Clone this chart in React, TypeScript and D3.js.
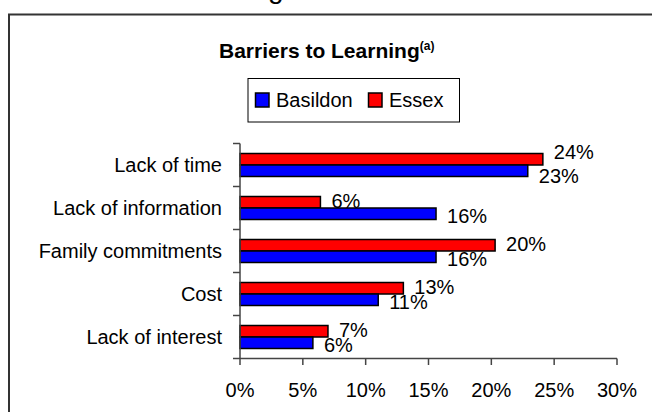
import React from "react";
import * as d3 from "d3";

const categories = ["Lack of time", "Lack of information", "Family commitments", "Cost", "Lack of interest"];
const seriesNames = ["Basildon", "Essex"];
const basildon = [22.9, 15.6, 15.6, 11.0, 5.8];
const essex = [24.1, 6.4, 20.3, 13.0, 7.0];
const xTicks = [0, 5, 10, 15, 20, 25, 30];
const colors = { Basildon: "#0000FF", Essex: "#FF0000" };

const W = 652;
const H = 412;
const FONT = "'Liberation Sans', Arial, sans-serif";

export default function App() {
  const x = d3.scaleLinear().domain([0, 30]).range([240, 617]);
  const y = d3.scaleBand<string>().domain(categories).range([143.5, 358.5]).padding(0);
  const sub = d3.scaleBand<string>().domain(["Essex", "Basildon"]).range([10, 33]).padding(0);
  const fs = 20;
  const labelW = (v: number) => (String(Math.round(v)).length + 1) * fs * 0.556 + fs * 0.333;

  return (
    <svg width={W} height={H} style={{ position: "absolute", left: 0, top: 0, background: "#fff" }} fontFamily={FONT}>
      <rect x={0} y={0} width={W} height={H} fill="#fff" />
      {/* partial heading above chart */}
      <text x={268} y={-2} fontSize={28} fill="#000">g</text>
      {/* chart frame */}
      <rect x={9} y={14.5} width={W + 20} height={H + 20} fill="none" stroke="#333" strokeWidth={2} />
      {/* title */}
      <text x={219} y={57.5} fontSize={21} fontWeight="bold" fill="#000">
        Barriers to Learning
        <tspan fontSize={12} dy={-8}>(a)</tspan>
      </text>
      {/* legend */}
      <rect x={248} y={78.5} width={211.5} height={43.5} fill="#fff" stroke="#000" strokeWidth={1} />
      {seriesNames.map((s, i) => {
        const lx = i === 0 ? 255.5 : 368.5;
        return (
          <g key={s}>
            <rect x={lx} y={93} width={13.5} height={14} fill={colors[s as keyof typeof colors]} stroke="#000" strokeWidth={1.5} />
            <text x={lx + 20.5} y={107} fontSize={fs} fill="#000">{s}</text>
          </g>
        );
      })}
      {/* bars */}
      {categories.map((c, i) => {
        const y0 = y(c)!;
        const ve = essex[i];
        const vb = basildon[i];
        const ey = y0 + sub("Essex")!;
        const by = y0 + sub("Basildon")!;
        const bh = sub.bandwidth();
        const exEnd = x(ve);
        const bxEnd = x(vb);
        const lxE = exEnd + 11;
        const lxB = bxEnd + 11;
        const overlap = Math.max(0, Math.min(lxE + labelW(ve), lxB + labelW(vb)) - Math.max(lxE, lxB));
        const pushed = overlap / Math.min(labelW(ve), labelW(vb)) > 0.5;
        const offE = pushed ? -7 : -1;
        const offB = pushed ? 5 : 2;
        return (
          <g key={c}>
            <rect x={x(0)} y={ey} width={exEnd - x(0)} height={bh} fill={colors.Essex} stroke="#000" strokeWidth={1.5} />
            <rect x={x(0)} y={by} width={bxEnd - x(0)} height={bh} fill={colors.Basildon} stroke="#000" strokeWidth={1.5} />
            <text x={lxE} y={ey + bh / 2 + offE + 7.2} fontSize={fs} fill="#000">{Math.round(ve)}%</text>
            <text x={lxB} y={by + bh / 2 + offB + 7.2} fontSize={fs} fill="#000">{Math.round(vb)}%</text>
            <text x={222} y={y0 + y.bandwidth() / 2 + 7.2} fontSize={fs} textAnchor="end" fill="#000">{c}</text>
          </g>
        );
      })}
      {/* y axis */}
      <line x1={240} x2={240} y1={143.5} y2={358.5} stroke="#444" strokeWidth={1.5} />
      {[...categories.map((c) => y(c)!), 358.5].map((ty, i) => (
        <line key={i} x1={233} x2={240} y1={ty} y2={ty} stroke="#444" strokeWidth={1.5} />
      ))}
      {/* x axis */}
      <line x1={240} x2={617} y1={358.5} y2={358.5} stroke="#444" strokeWidth={1.5} />
      {xTicks.map((t) => (
        <g key={t}>
          <line x1={x(t)} x2={x(t)} y1={358.5} y2={365} stroke="#444" strokeWidth={1.5} />
          <text x={x(t)} y={397} fontSize={fs} textAnchor="middle" fill="#000">{t}%</text>
        </g>
      ))}
    </svg>
  );
}
